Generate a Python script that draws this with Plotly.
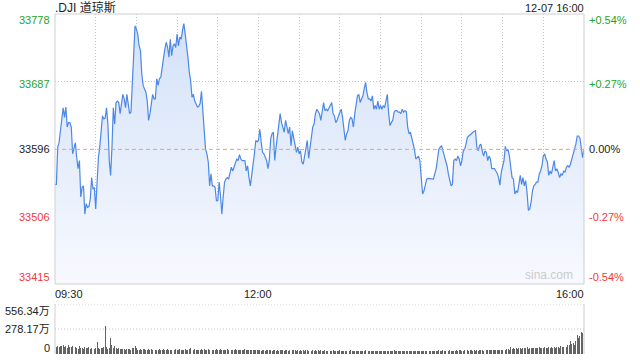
import pandas as pd
import plotly.graph_objects as go

title_text = ".DJI 道琼斯"
stamp_text = "12-07 16:00"
prev_close = 33596
price_ticks = [33778, 33687, 33596, 33506, 33415]
price_tick_labels = ["33778", "33687", "33596", "33506", "33415"]
pct_tick_labels = ["+0.54%", "+0.27%", "0.00%", "-0.27%", "-0.54%"]
time_labels = ["09:30", "12:00", "16:00"]
vol_ticks = [556.34, 278.17, 0]
vol_tick_labels = ["556.34万", "278.17万", "0"]

prices = [
    33549, 33549, 33599, 33605, 33621, 33637, 33652, 33639, 33653, 33626,
    33632, 33632, 33626, 33590, 33599, 33605, 33585, 33570, 33581, 33532,
    33545, 33547, 33509, 33523, 33518, 33519, 33529, 33558, 33543, 33544,
    33516, 33554, 33585, 33599, 33626, 33641, 33637, 33638, 33652, 33630,
    33581, 33561, 33599, 33652, 33630, 33659, 33661, 33659, 33644, 33655,
    33670, 33664, 33652, 33670, 33657, 33644, 33646, 33688, 33733, 33762,
    33758, 33751, 33735, 33729, 33697, 33682, 33677, 33673, 33661, 33635,
    33644, 33655, 33670, 33664, 33664, 33691, 33682, 33691, 33693, 33706,
    33722, 33731, 33740, 33733, 33720, 33744, 33722, 33735, 33738, 33733,
    33751, 33735, 33747, 33744, 33756, 33765, 33751, 33738, 33720, 33700,
    33688, 33666, 33670, 33661, 33656, 33653, 33654, 33658, 33674, 33644,
    33621, 33596, 33590, 33579, 33547, 33563,
    33547, 33547, 33545, 33527, 33527, 33552, 33534, 33509, 33532, 33552,
    33556, 33558, 33556, 33563, 33572, 33567, 33572, 33579, 33583, 33581,
    33589, 33583, 33581, 33581, 33581, 33567, 33574, 33558, 33547, 33561,
    33574, 33590, 33608, 33606, 33608, 33623, 33606, 33592, 33590, 33585,
    33581, 33570, 33581, 33610, 33617, 33619, 33581, 33599, 33617, 33626,
    33644, 33632, 33626, 33619, 33635, 33623, 33617, 33626,
    33601, 33621, 33610, 33599, 33592, 33599, 33590, 33594, 33579, 33576,
    33585, 33596, 33608, 33584, 33596, 33612, 33626, 33630, 33644, 33650, 33646, 33644,
    33635, 33648, 33659, 33648, 33650, 33648, 33652,
    33657, 33659, 33644, 33641, 33632, 33635, 33641, 33646, 33650, 33639,
    33621, 33608, 33617, 33621, 33635, 33639, 33637, 33626, 33644, 33659,
    33668, 33670, 33659, 33664, 33668, 33678, 33686, 33672, 33664, 33664,
    33661, 33668, 33650, 33655, 33650, 33661, 33650, 33655, 33650, 33655,
    33652, 33661, 33670, 33644, 33628, 33632, 33635, 33646, 33648, 33648,
    33646, 33646, 33644, 33650, 33646, 33648, 33647, 33626,
    33617, 33619, 33612, 33605, 33596, 33583, 33585, 33587, 33581, 33563,
    33536, 33540, 33549, 33556, 33557, 33557, 33556, 33557, 33556, 33563,
    33570, 33583, 33596, 33599, 33601, 33594, 33587, 33581, 33574, 33563, 33554,
    33547, 33549, 33581, 33583, 33581, 33587, 33583, 33574, 33581, 33594,
    33596, 33603, 33612, 33614, 33615, 33617, 33619, 33620, 33621, 33599,
    33594, 33601, 33603, 33594, 33587, 33594, 33592, 33581, 33587, 33583,
    33570, 33570, 33570, 33567, 33564, 33558, 33548, 33565, 33572, 33581,
    33600, 33594, 33596, 33587, 33572, 33558, 33556, 33536, 33540, 33538,
    33549, 33561, 33549, 33558, 33547, 33554,
    33538, 33514, 33516, 33525, 33540, 33547, 33549, 33552, 33552, 33563,
    33567, 33574, 33587, 33590, 33583, 33579, 33561, 33567, 33563, 33574,
    33581, 33567, 33570, 33565, 33558, 33563, 33561, 33567, 33565, 33572,
    33574, 33572, 33576, 33583, 33590, 33594, 33603, 33614, 33614, 33611, 33599, 33585, 33596,
]

volumes = [
    95, 80, 88, 75, 92, 85, 100, 78, 90, 70, 96, 82, 74, 88, 66, 80,
    72, 60, 85, 65, 70, 58, 75, 62, 68, 80, 55, 64, 70, 60, 72,
    130,
    65, 58, 70, 62, 75,
    312,
    80, 60, 68,
    178,
    95, 70, 85, 62, 58, 66, 55, 60, 52,
    55, 48, 60, 52, 58, 50, 62, 70, 92, 65, 50, 45, 55, 48, 52, 58, 46, 50, 55, 44, 52, 48, 56, 50, 47,
    48, 52, 45, 50, 55, 42, 48, 53, 46, 50, 44, 58, 47, 52, 45, 49, 55, 43, 50, 46,
    52, 48, 44, 60, 72, 50, 46, 55, 48, 42, 50, 45, 53, 47, 58, 44, 49, 52, 46, 70,
    50, 45, 48, 55, 42, 47, 52, 46, 50, 44, 48, 53, 45, 50, 47, 42, 46, 51, 44, 48,
    45, 50, 43, 47, 52, 44, 48, 41, 46, 50, 43, 47, 45, 49, 44,
    42, 38, 45, 40, 36, 48, 41, 39, 44, 37, 42, 46, 38, 40, 35, 43, 39, 41, 37, 44,
    40, 36, 42, 38, 45, 39, 41, 35, 43, 38, 40, 37, 42, 36, 39, 44, 38, 41, 35, 40,
    37, 42, 36, 39, 34, 41, 38, 35, 40, 36,
    34, 38, 32, 36, 40, 33, 37, 31, 35, 39, 33, 36, 30, 38, 34, 37, 32, 40, 35, 33,
    36, 31, 38, 34, 30, 37, 33, 35, 39, 32, 36, 34, 31, 38, 33, 35, 37, 30, 34, 36,
    32, 38, 35, 31, 37, 33, 36, 30, 34, 39, 33, 35, 31, 37, 34, 32, 38, 35, 33, 36,
    31, 37, 34, 30, 36, 33, 38, 32, 35, 34, 31, 37, 33, 36, 30, 35, 38, 33, 36, 34,
    38, 35, 40, 33, 37, 42, 36, 34, 39, 35, 41, 37, 33, 38, 36, 40, 34, 39, 42, 37,
    35, 40, 38, 43, 36, 39, 41, 37, 44, 38, 40, 36, 42, 39, 45, 38, 41, 43, 40, 46,
    42, 39, 44, 48, 41, 45, 43, 50, 46, 44,
    52, 48, 55, 60, 50, 75, 58, 62, 55, 68, 60, 72, 65, 58, 70, 66, 62, 74, 60, 68,
    64, 70, 66, 62, 72, 68, 75, 64, 70, 66, 73, 68, 62, 78, 70, 74, 66, 80, 72, 76,
    78, 72, 85, 76, 82, 90, 80, 95, 100, 141, 110, 118, 105, 150, 215, 180, 195, 241, 230, 556.34,
]

assert len(prices) == 391, len(prices)
assert len(volumes) == 391, len(volumes)

times = pd.date_range("2023-12-07 09:30", periods=len(prices), freq="min")

FONT = "Arial, 'Liberation Sans', 'Noto Sans CJK SC', sans-serif"
GREEN = "#1fa51f"
RED = "#f03a3a"
DARK = "#222222"
GRID = "#c4c4c4"
DOT = "1px,2px"

W, H = 640, 360
L, R = 55, 584
PT, PB = 14, 284
VT, VB = 304, 354

fig = go.Figure()

fig.add_trace(go.Scatter(
    x=times, y=prices, mode="lines",
    line=dict(color="#4d88e6", width=1.2),
    fill="tozeroy",
    fillgradient=dict(type="vertical",
                      colorscale=[[0, "#f7f9fe"], [1, "#d2e1f8"]],
                      start=price_ticks[-1], stop=price_ticks[0]),
    hoverinfo="skip", showlegend=False,
    xaxis="x", yaxis="y",
))

fig.add_trace(go.Bar(
    x=times, y=volumes,
    marker=dict(color="#646464", line=dict(width=0)),
    width=42000,
    hoverinfo="skip", showlegend=False,
    xaxis="x2", yaxis="y2",
))

xdom = [L / W, R / W]
fig.update_layout(
    width=W, height=H, autosize=False,
    margin=dict(l=0, r=0, t=0, b=0),
    paper_bgcolor="white", plot_bgcolor="white",
    font=dict(family=FONT, size=11, color=DARK),
    xaxis=dict(domain=xdom, type="date", range=[times[0], times[-1]],
               showgrid=True, gridcolor=GRID, griddash=DOT, gridwidth=1,
               tick0=times[0], dtick=30 * 60 * 1000,
               showticklabels=False, ticks="", zeroline=False, showline=False,
               anchor="y", fixedrange=True),
    yaxis=dict(domain=[1 - PB / H, 1 - PT / H], range=[price_ticks[-1], price_ticks[0]],
               tickvals=[price_ticks[1], price_ticks[3]],
               showgrid=True, gridcolor=GRID, griddash=DOT, gridwidth=1,
               showticklabels=False, ticks="", zeroline=False, showline=False,
               anchor="x", fixedrange=True),
    xaxis2=dict(domain=xdom, type="date", range=[times[0], times[-1]],
                showgrid=False, showticklabels=False, ticks="", zeroline=False,
                showline=False, anchor="y2", matches="x", fixedrange=True),
    yaxis2=dict(domain=[1 - VB / H, 1 - VT / H], range=[0, vol_ticks[0]],
                showgrid=False, showticklabels=False, ticks="", zeroline=False,
                showline=False, anchor="x2", fixedrange=True),
    bargap=0,
)

shapes = [
    dict(type="rect", xref="x domain", yref="y domain", x0=0, x1=1, y0=0, y1=1,
         line=dict(color="#cfcfcf", width=1), fillcolor="rgba(0,0,0,0)", layer="above"),
    dict(type="line", xref="x domain", yref="y", x0=0, x1=1, y0=prev_close, y1=prev_close,
         line=dict(color="#f0a070", width=1, dash="4px,3px"), layer="above"),
    dict(type="line", xref="x2 domain", yref="y2", x0=0, x1=1, y0=vol_ticks[0], y1=vol_ticks[0],
         line=dict(color=GRID, width=1, dash=DOT)),
    dict(type="line", xref="x2 domain", yref="y2", x0=0, x1=1, y0=vol_ticks[1], y1=vol_ticks[1],
         line=dict(color=GRID, width=1, dash=DOT)),
    dict(type="line", xref="x2 domain", yref="y2 domain", x0=0, x1=0, y0=0, y1=1,
         line=dict(color="#cfcfcf", width=1)),
    dict(type="line", xref="x2 domain", yref="y2 domain", x0=1, x1=1, y0=0, y1=1,
         line=dict(color="#cfcfcf", width=1)),
]
fig.update_layout(shapes=shapes)

ann = []
ann.append(dict(text=title_text, xref="x domain", yref="paper", x=0, y=1 - 7.5 / H,
                xanchor="left", yanchor="middle", showarrow=False, xshift=-2,
                font=dict(size=12, color=DARK)))
ann.append(dict(text=stamp_text, xref="x domain", yref="paper", x=1, y=1 - 7.5 / H,
                xanchor="right", yanchor="middle", showarrow=False, xshift=2,
                font=dict(size=11, color=DARK)))

price_colors = [GREEN, GREEN, DARK, RED, RED]
shifts = [-6, -2, 0, -1, 7]
for v, lab, pl, c, s in zip(price_ticks, price_tick_labels, pct_tick_labels, price_colors, shifts):
    ann.append(dict(text=lab, xref="x domain", yref="y", x=0, y=v, xanchor="right",
                    yanchor="middle", showarrow=False, xshift=-3, yshift=s,
                    font=dict(size=11, color=c)))
    ann.append(dict(text=pl, xref="x domain", yref="y", x=1, y=v, xanchor="left",
                    yanchor="middle", showarrow=False, xshift=3, yshift=s,
                    font=dict(size=11, color=c)))

t_idx = [0, 150, len(times) - 1]
t_anchor = ["left", "center", "right"]
for lab, i, a in zip(time_labels, t_idx, t_anchor):
    ann.append(dict(text=lab, xref="x", yref="paper", x=times[i], y=1 - 293.5 / H,
                    xanchor=a, yanchor="middle", showarrow=False,
                    xshift=(-2 if a == "left" else (2 if a == "right" else 0)),
                    font=dict(size=11, color=DARK)))

vshifts = [-7, 0, 6]
for v, lab, s in zip(vol_ticks, vol_tick_labels, vshifts):
    ann.append(dict(text=lab, xref="x2 domain", yref="y2", x=0, y=v, xanchor="right",
                    yanchor="middle", showarrow=False, xshift=-3, yshift=s,
                    font=dict(size=11, color=DARK)))

ann.append(dict(text="sina.com", xref="x domain", yref="y", x=1, y=price_ticks[-1],
                xanchor="right", yanchor="bottom", showarrow=False, xshift=-9, yshift=0,
                font=dict(size=12, color="#cccccc")))

fig.update_layout(annotations=ann)

fig.write_html("out.html", include_plotlyjs=True,
               config={"displayModeBar": False, "staticPlot": True},
               post_script="document.body.style.margin='0px';document.body.style.overflow='hidden';")
